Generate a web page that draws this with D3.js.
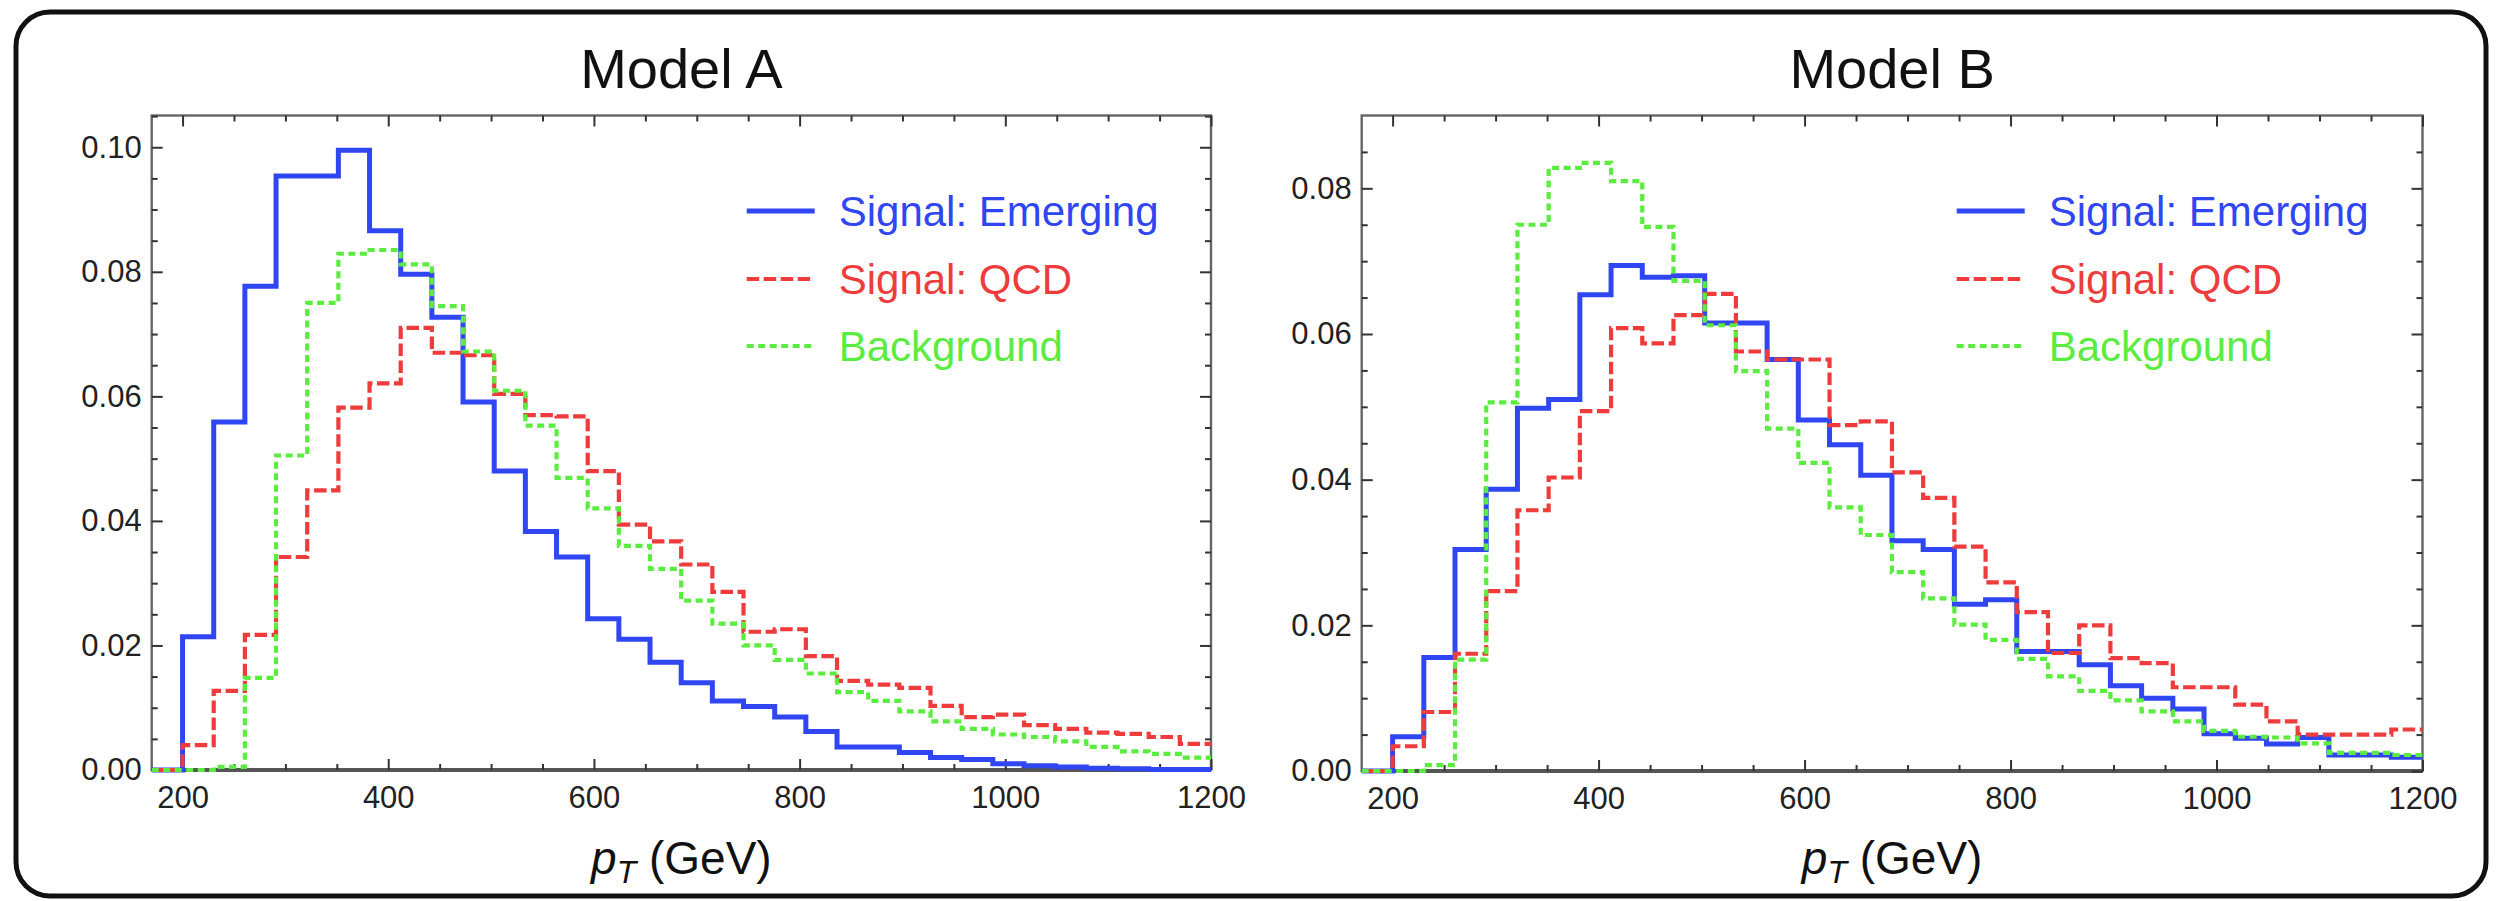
<!DOCTYPE html>
<html>
  <head>
    <meta http-equiv="content-type" content="text/html; charset=UTF-8">
    <title>pT distributions</title>
    <script type="text/javascript" src="https://d3js.org/d3.v7.min.js"></script>
    <style type="text/css">
      body {
        margin: 0;
        background-color: white;
      }
      text {
        font-family: "Liberation Sans", Arial, sans-serif;
      }
    </style>
  </head>
  <body>
    <script type="text/javascript">
    // histogram binning: 33 equal bins between 200 and 1200 GeV
    var binStart = 200, binEnd = 1200, binCount = 33;

    var xTicks = [200, 400, 600, 800, 1000, 1200];
    var yTicksA = [0, 0.02, 0.04, 0.06, 0.08, 0.10];
    var yTicksB = [0, 0.02, 0.04, 0.06, 0.08];
    var seriesNames = ["Signal: Emerging", "Signal: QCD", "Background"];
    var panelTitles = ["Model A", "Model B"];

    // Model A
    var emergingA = [0.0214, 0.0559, 0.0777, 0.0954, 0.0954, 0.0995, 0.0866, 0.0796, 0.0727, 0.0591,
                     0.0480, 0.0383, 0.0342, 0.0243, 0.0210, 0.0173, 0.0140, 0.0111, 0.0102, 0.0085,
                     0.0062, 0.0037, 0.0037, 0.0028, 0.0020, 0.0017, 0.0010, 0.0007, 0.0005, 0.0003,
                     0.0002, 0.0001, 0.0001];
    var qcdA = [0.0040, 0.0127, 0.0217, 0.0342, 0.0449, 0.0582, 0.0621, 0.0710, 0.0670, 0.0666,
                0.0604, 0.0570, 0.0568, 0.0480, 0.0394, 0.0367, 0.0330, 0.0286, 0.0222, 0.0226,
                0.0183, 0.0143, 0.0137, 0.0132, 0.0103, 0.0085, 0.0089, 0.0072, 0.0066, 0.0060,
                0.0058, 0.0053, 0.0042];
    var backgroundA = [0.0000, 0.0005, 0.0148, 0.0505, 0.0750, 0.0829, 0.0835, 0.0812, 0.0745, 0.0672,
                       0.0609, 0.0553, 0.0469, 0.0420, 0.0360, 0.0323, 0.0272, 0.0235, 0.0200, 0.0177,
                       0.0155, 0.0125, 0.0111, 0.0094, 0.0078, 0.0066, 0.0057, 0.0053, 0.0046, 0.0037,
                       0.0030, 0.0026, 0.0020];

    // Model B
    var emergingB = [0.0047, 0.0156, 0.0304, 0.0387, 0.0498, 0.0510, 0.0654, 0.0694, 0.0678, 0.0680,
                     0.0615, 0.0615, 0.0565, 0.0482, 0.0448, 0.0406, 0.0316, 0.0304, 0.0229, 0.0235,
                     0.0164, 0.0164, 0.0146, 0.0117, 0.0100, 0.0085, 0.0051, 0.0045, 0.0037, 0.0046,
                     0.0022, 0.0022, 0.0019];
    var qcdB = [0.0034, 0.0081, 0.0161, 0.0247, 0.0358, 0.0403, 0.0494, 0.0608, 0.0587, 0.0626,
                0.0655, 0.0576, 0.0565, 0.0565, 0.0475, 0.0480, 0.0410, 0.0375, 0.0308, 0.0259,
                0.0218, 0.0162, 0.0200, 0.0155, 0.0148, 0.0115, 0.0115, 0.0091, 0.0068, 0.0050,
                0.0050, 0.0050, 0.0057];
    var backgroundB = [0.0000, 0.0008, 0.0153, 0.0506, 0.0750, 0.0828, 0.0835, 0.0810, 0.0747, 0.0673,
                       0.0612, 0.0549, 0.0470, 0.0423, 0.0362, 0.0324, 0.0273, 0.0237, 0.0201, 0.0180,
                       0.0154, 0.0130, 0.0110, 0.0097, 0.0082, 0.0068, 0.0055, 0.0047, 0.0046, 0.0038,
                       0.0025, 0.0025, 0.0022];

    var W = 2498, H = 901;
    var xMin = 170, xMax = 1200;

    var styles = [
      {color: "#2f46f2", width: 5, dash: null},
      {color: "#ee3c3c", width: 4.2, dash: "12.5,4.5"},
      {color: "#5aec3e", width: 4.2, dash: "7,4.5"}
    ];

    var panels = [
      {title: panelTitles[0], left: 151.7, right: 1211, top: 115.5, bottom: 770, yMax: 0.1051,
       yTicks: yTicksA, series: [emergingA, qcdA, backgroundA]},
      {title: panelTitles[1], left: 1361.7, right: 2422.5, top: 115.5, bottom: 771, yMax: 0.0900,
       yTicks: yTicksB, series: [emergingB, qcdB, backgroundB]}
    ];

    var edges = d3.range(binCount + 1).map(function(i) {
      return binStart + i * (binEnd - binStart) / binCount;
    });

    var svg = d3.select("body").append("svg")
      .attr("width", W).attr("height", H);

    // rounded outer box
    svg.append("rect")
      .attr("x", 16).attr("y", 12).attr("width", 2470).attr("height", 884)
      .attr("rx", 34).attr("ry", 34)
      .attr("fill", "white").attr("stroke", "#111").attr("stroke-width", 5);

    function styleAxis(g, fontSize) {
      g.select(".domain").remove();
      g.selectAll(".tick line").attr("stroke", "#333").attr("stroke-width", 2);
      g.selectAll(".tick text").attr("fill", "#222")
        .style("font-family", '"Liberation Sans", Arial, sans-serif')
        .style("font-size", fontSize + "px");
    }

    function drawPanel(p, idx) {
      var x = d3.scaleLinear().domain([xMin, xMax]).range([p.left, p.right]);
      var y = d3.scaleLinear().domain([0, p.yMax]).range([p.bottom, p.top]);
      var g = svg.append("g");
      var cx = (p.left + p.right) / 2;

      var xMinor = d3.range(200, 1201, 50).filter(function(v) { return xTicks.indexOf(v) < 0; });
      var yMinor = d3.range(0, p.yMax, 0.005).filter(function(v) {
        return Math.abs(Math.round(v * 50) - v * 50) > 1e-6;
      });

      // frame
      g.append("rect")
        .attr("x", p.left).attr("y", p.top)
        .attr("width", p.right - p.left).attr("height", p.bottom - p.top)
        .attr("fill", "none").attr("stroke", "#666").attr("stroke-width", 2.4);
      g.append("line")
        .attr("x1", p.left).attr("x2", p.right)
        .attr("y1", y(0)).attr("y2", y(0))
        .attr("stroke", "#555").attr("stroke-width", 4);

      // bottom ticks + labels
      g.append("g").attr("transform", "translate(0," + p.bottom + ")")
        .call(d3.axisBottom(x).tickValues(xTicks).tickSize(-11).tickPadding(16).tickFormat(d3.format("d")))
        .call(styleAxis, 31);
      g.append("g").attr("transform", "translate(0," + p.bottom + ")")
        .call(d3.axisBottom(x).tickValues(xMinor).tickSize(-6).tickFormat(""))
        .call(styleAxis, 31);
      // top ticks
      g.append("g").attr("transform", "translate(0," + p.top + ")")
        .call(d3.axisTop(x).tickValues(xTicks).tickSize(-11).tickFormat(""))
        .call(styleAxis, 31);
      g.append("g").attr("transform", "translate(0," + p.top + ")")
        .call(d3.axisTop(x).tickValues(xMinor).tickSize(-6).tickFormat(""))
        .call(styleAxis, 31);
      // left ticks + labels
      g.append("g").attr("transform", "translate(" + p.left + ",0)")
        .call(d3.axisLeft(y).tickValues(p.yTicks).tickSize(-11).tickPadding(10).tickFormat(d3.format(".2f")))
        .call(styleAxis, 31);
      g.append("g").attr("transform", "translate(" + p.left + ",0)")
        .call(d3.axisLeft(y).tickValues(yMinor).tickSize(-6).tickFormat(""))
        .call(styleAxis, 31);
      // right ticks
      g.append("g").attr("transform", "translate(" + p.right + ",0)")
        .call(d3.axisRight(y).tickValues(p.yTicks).tickSize(-11).tickFormat(""))
        .call(styleAxis, 31);
      g.append("g").attr("transform", "translate(" + p.right + ",0)")
        .call(d3.axisRight(y).tickValues(yMinor).tickSize(-6).tickFormat(""))
        .call(styleAxis, 31);

      // histogram outlines
      var clipId = "clip" + idx;
      svg.append("clipPath").attr("id", clipId)
        .append("rect")
        .attr("x", p.left).attr("y", p.top - 4)
        .attr("width", p.right - p.left).attr("height", p.bottom - p.top + 8);

      var line = d3.line()
        .x(function(d) { return x(d[0]); })
        .y(function(d) { return y(d[1]); })
        .curve(d3.curveStepAfter);

      p.series.forEach(function(vals, s) {
        var pts = [[xMin, 0]];
        vals.forEach(function(v, i) { pts.push([edges[i], v]); });
        pts.push([edges[binCount], vals[binCount - 1]]);
        g.append("path")
          .datum(pts)
          .attr("clip-path", "url(#" + clipId + ")")
          .attr("d", line)
          .attr("fill", "none")
          .attr("stroke", styles[s].color)
          .attr("stroke-width", styles[s].width)
          .attr("stroke-dasharray", styles[s].dash);
      });

      // legend
      var legY = [211, 279, 346];
      seriesNames.forEach(function(name, s) {
        g.append("line")
          .attr("x1", p.left + 595).attr("x2", p.left + 663)
          .attr("y1", legY[s]).attr("y2", legY[s])
          .attr("stroke", styles[s].color)
          .attr("stroke-width", styles[s].width)
          .attr("stroke-dasharray", styles[s].dash);
        g.append("text")
          .attr("x", p.left + 687).attr("y", legY[s] + 15)
          .attr("fill", styles[s].color)
          .style("font-size", "42px")
          .text(name);
      });

      // title
      g.append("text")
        .attr("x", cx).attr("y", 88)
        .attr("text-anchor", "middle")
        .attr("fill", "#111")
        .style("font-size", "56px")
        .text(p.title);

      // x axis title
      var xt = g.append("text")
        .attr("x", cx).attr("y", 874)
        .attr("text-anchor", "middle")
        .attr("fill", "#111")
        .style("font-size", "46px");
      xt.append("tspan").style("font-style", "italic").text("p");
      xt.append("tspan").style("font-style", "italic").style("font-size", "32px")
        .attr("dy", 9).text("T");
      xt.append("tspan").attr("dy", -9).text(" (GeV)");
    }

    panels.forEach(drawPanel);
    </script>
  </body>
</html>
